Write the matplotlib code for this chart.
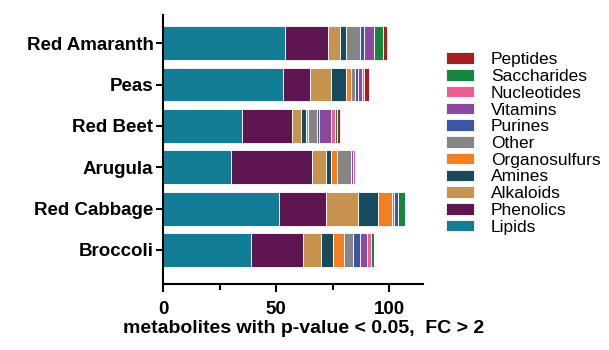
import numpy as np
import matplotlib.pyplot as plt
from matplotlib.ticker import MultipleLocator

plt.rcParams['font.family'] = ['Liberation Sans', 'DejaVu Sans']

# vegetables, bottom to top
vegetables = ['Broccoli', 'Red Cabbage', 'Arugula', 'Red Beet', 'Peas', 'Red Amaranth']

# metabolite classes, in stacking order (left to right)
classes = ['Lipids', 'Phenolics', 'Alkaloids', 'Amines', 'Organosulfurs', 'Other',
           'Purines', 'Vitamins', 'Nucleotides', 'Saccharides', 'Peptides']

# counts per class, one list per vegetable (same order as classes)
broccoli = [39, 23, 8, 5, 5, 4, 3, 3, 2, 1, 0]
red_cabbage = [51, 21, 14, 9, 6, 1, 2, 0, 0, 3, 0]
arugula = [30, 36, 6, 2, 3, 6, 0, 1, 1, 0, 0]
red_beet = [35, 22, 4, 2, 1, 4, 1, 5, 2, 1, 1]
peas = [53, 12, 9, 7, 2, 2, 1, 2, 1, 0, 2]
red_amaranth = [54, 19, 5, 3, 0, 6, 2, 4, 0, 4, 2]

colors = ['#137d95', '#5d1650', '#c6944f', '#174b5d', '#f27f22', '#858585',
          '#3d55a5', '#8a4b9f', '#ee5e93', '#158640', '#a41e22']

counts = np.array([broccoli, red_cabbage, arugula, red_beet, peas, red_amaranth])

fig = plt.figure(figsize=(6.09, 3.5), dpi=100)
ax = fig.add_axes([0.268, 0.189, 0.427, 0.768])

y = np.arange(len(vegetables))
left = np.zeros(len(vegetables))
for i, name in enumerate(classes):
    ax.barh(y, counts[:, i], left=left, height=0.82, color=colors[i],
            edgecolor='white', linewidth=0.6, label=name)
    left += counts[:, i]

ax.set_xlim(0, 115)
ax.set_ylim(-0.82, 5.68)
ax.set_yticks(y)
ax.set_yticklabels(vegetables, fontsize=13.5, fontweight='bold')
ax.xaxis.set_major_locator(MultipleLocator(50))
ax.xaxis.set_minor_locator(MultipleLocator(25))
for lab in ax.get_xticklabels():
    lab.set_fontweight('bold')
ax.tick_params(axis='x', labelsize=13.5, width=1.5, length=6, pad=6)
ax.tick_params(axis='x', which='minor', width=1.5, length=4)
ax.tick_params(axis='y', width=1.5, length=5, pad=2)

ax.spines['top'].set_visible(False)
ax.spines['right'].set_visible(False)
ax.spines['left'].set_linewidth(1.5)
ax.spines['bottom'].set_linewidth(1.5)

ax.set_xlabel('metabolites with p-value < 0.05,  FC > 2', fontsize=14,
              fontweight='bold')
ax.xaxis.set_label_coords(0.54, -0.135)

handles, labels = ax.get_legend_handles_labels()
fig.legend(handles[::-1], labels[::-1], loc='center left',
           bbox_to_anchor=(0.712, 0.59), frameon=False, fontsize=12.5,
           handlelength=1.6, handleheight=0.65, handletextpad=1.0,
           labelspacing=0.1, borderpad=0.2)

plt.savefig('out.png', dpi=100)
plt.close()
